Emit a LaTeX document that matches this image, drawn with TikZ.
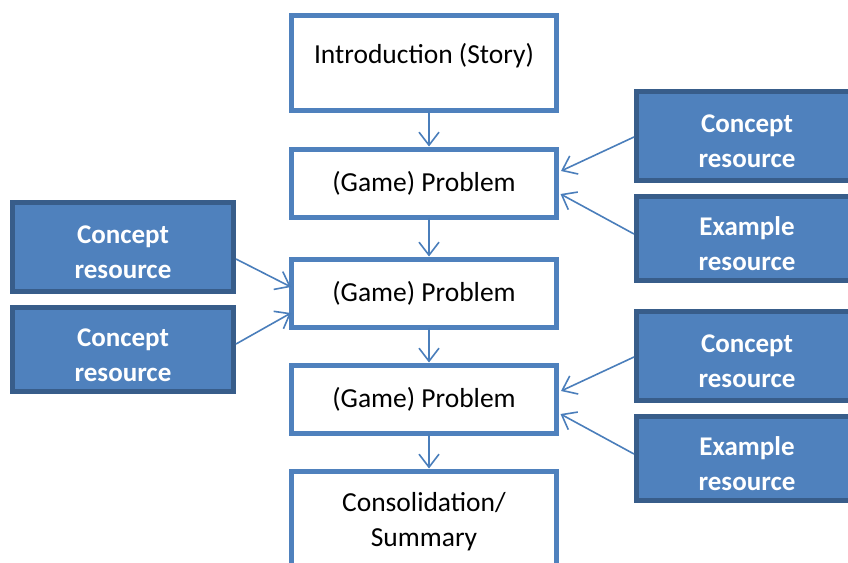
\documentclass[tikz,border=0pt]{standalone}
\usepackage{fontspec}
\setmainfont{Carlito}
\usetikzlibrary{arrows.meta}
\definecolor{boxblue}{HTML}{4F81BD}
\definecolor{darkblue}{HTML}{385D8A}
\definecolor{arrowblue}{HTML}{4A7EBB}
\begin{document}
\begin{tikzpicture}[x=1pt,y=-1pt,
  cbox/.style={draw=boxblue, line width=5pt, fill=white, minimum width=265pt,
    inner sep=0pt, outer sep=0pt, align=center, font=\fontsize{27.5}{35}\selectfont},
  rbox/.style={draw=darkblue, fill=boxblue, line width=5pt, minimum width=221pt,
    text=white, align=center, font=\bfseries\fontsize{27}{35}\selectfont,
    inner sep=0pt, outer sep=0pt, text height=64pt},
  link/.style={draw=arrowblue, line width=1.6pt,
    -{Straight Barb[length=13pt,width=20pt]}}]
\useasboundingbox (0,0) rectangle (848,562);

% centre column
\node[cbox, minimum height=95pt,
  label={[font=\fontsize{27.5}{35}\selectfont, yshift=7pt]center:Introduction (Story)}]
  (intro) at (424,63) {};
\node[cbox, minimum height=68pt] (p1) at (424,183.5) {(Game) Problem};
\node[cbox, minimum height=68pt] (p2) at (424,293.5) {(Game) Problem};
\node[cbox, minimum height=68pt] (p3) at (424,399.5) {(Game) Problem};
\node[cbox, minimum height=95pt, text height=60pt] (cons) at (424,519) {Consolidation/\\Summary};

% resource boxes
\node[rbox, minimum height=89pt] (re1) at (747,136) {Concept\\resource};
\node[rbox, minimum height=84pt] (re2) at (747,238.5) {Example\\resource};
\node[rbox, minimum height=89pt] (lc1) at (123,247) {Concept\\resource};
\node[rbox, minimum height=84pt] (lc2) at (123,349.5) {Concept\\resource};
\node[rbox, minimum height=89pt] (re3) at (747,356) {Concept\\resource};
\node[rbox, minimum height=84pt] (re4) at (747,458.5) {Example\\resource};

% vertical flow
\draw[link, shorten >=3pt] ([xshift=5pt]intro.south) -- ([xshift=5pt]p1.north);
\draw[link, shorten >=3pt] ([xshift=5pt]p1.south) -- ([xshift=5pt]p2.north);
\draw[link, shorten >=3pt] ([xshift=5pt]p2.south) -- ([xshift=5pt]p3.north);
\draw[link, shorten >=3pt] ([xshift=5pt]p3.south) -- ([xshift=5pt]cons.north);

% resources into problems
\draw[link] ([xshift=-2.5pt,yshift=-1pt]re1.west) -- ([xshift=4.5pt,yshift=12.5pt]p1.east);
\draw[link] ([xshift=-2.5pt,yshift=4.5pt]re2.west) -- ([xshift=4pt,yshift=-10.5pt]p1.east);
\draw[link] ([xshift=2.5pt,yshift=-12pt]lc1.east) -- ([xshift=-0.5pt,yshift=6.5pt]p2.west);
\draw[link] ([xshift=2.5pt,yshift=5.5pt]lc2.east) -- ([xshift=-0.5pt,yshift=-19.5pt]p2.west);
\draw[link] ([xshift=-2.5pt,yshift=-1pt]re3.west) -- ([xshift=4.5pt,yshift=8.5pt]p3.east);
\draw[link] ([xshift=-2.5pt,yshift=4.5pt]re4.west) -- ([xshift=4pt,yshift=-14.5pt]p3.east);
\end{tikzpicture}
\end{document}
